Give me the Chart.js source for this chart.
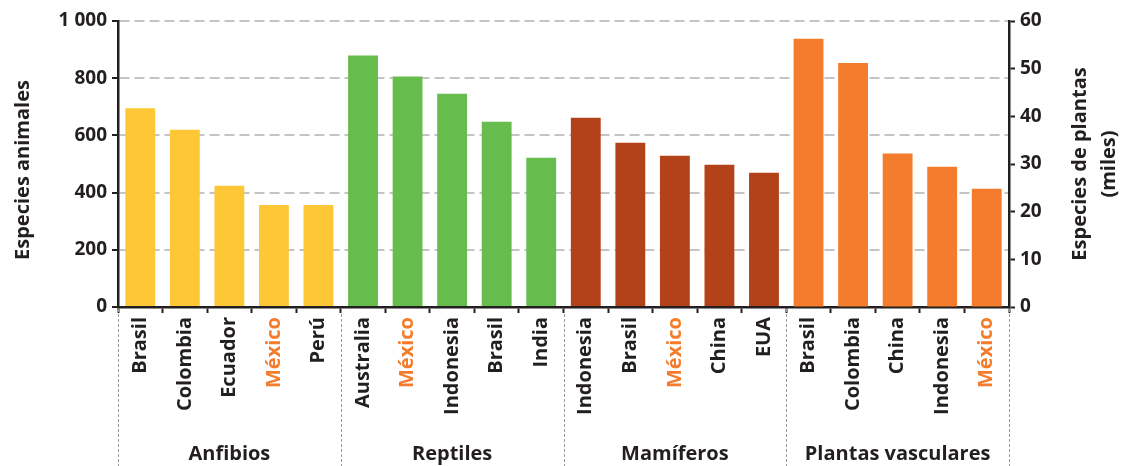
<!DOCTYPE html>
<html>
<head>
<meta charset="utf-8">
<script src="https://cdn.jsdelivr.net/npm/chart.js@4"></script>
<style>
  html, body { margin: 0; padding: 0; background: #fff; }
  #wrap { width: 1121px; height: 466px; }
</style>
</head>
<body>
<div id="wrap"><canvas id="chart" width="1121" height="466"></canvas></div>
<script>
// categories (country per bar) and the group each bar belongs to
const countries = [
  'Brasil', 'Colombia', 'Ecuador', 'México', 'Perú',
  'Australia', 'México', 'Indonesia', 'Brasil', 'India',
  'Indonesia', 'Brasil', 'México', 'China', 'EUA',
  'Brasil', 'Colombia', 'China', 'Indonesia', 'México'
];
const groupNames = ['Anfibios', 'Reptiles', 'Mamíferos', 'Plantas vasculares'];
const groupSize = 5;
const groupColors = ['#fec735', '#66bc4c', '#b34119', '#f47c2c'];

// left axis: number of animal species
const animalSpecies = [695, 620, 424, 357, 357, 879, 806, 746, 648, 522, 662, 574, 529, 497, 469,
  null, null, null, null, null];
// right axis: plant species (thousands)
const plantSpecies = [null, null, null, null, null, null, null, null, null, null,
  null, null, null, null, null, 56.3, 51.2, 32.2, 29.4, 24.8];

const leftTicks = [0, 200, 400, 600, 800, 1000];
const rightTicks = [0, 10, 20, 30, 40, 50, 60];

const dark = '#231f20';
const mexColor = '#f47c2b';
const fontFam = "'Open Sans', 'DejaVu Sans', sans-serif";

const barColors = countries.map((c, i) => groupColors[Math.floor(i / groupSize)]);

function fmtThousands(v){
    return String(v).replace(/\B(?=(\d{3})+(?!\d))/g, ' ');
}

const extrasPlugin = {
    id: 'extras',
    afterDraw(chart){
        const ctx = chart.ctx;
        const x = chart.scales.x;
        const area = chart.chartArea;
        const half = (x.getPixelForValue(1) - x.getPixelForValue(0)) / 2;

        // dashed separators between groups
        ctx.save();
        ctx.strokeStyle = '#9a9a9a';
        ctx.lineWidth = 1;
        ctx.setLineDash([3, 2]);
        for (let g = 0; g <= groupNames.length; g++) {
            const idx = Math.min(g * groupSize, countries.length - 1);
            let px = g * groupSize < countries.length ? x.getPixelForValue(idx) - half : x.getPixelForValue(idx) + half;
            px = Math.round(px) + 0.5;
            ctx.beginPath();
            ctx.moveTo(px, area.bottom + 2);
            ctx.lineTo(px, chart.height);
            ctx.stroke();
        }
        ctx.restore();

        // group names
        ctx.save();
        ctx.fillStyle = dark;
        ctx.font = 'bold 20px ' + fontFam;
        ctx.textAlign = 'center';
        ctx.textBaseline = 'middle';
        groupNames.forEach((name, g) => {
            const a = x.getPixelForValue(g * groupSize) - half;
            const b = x.getPixelForValue(g * groupSize + groupSize - 1) + half;
            ctx.fillText(name, (a + b) / 2, 454);
        });
        ctx.restore();

        // axis titles
        const midY = (area.top + area.bottom) / 2;
        ctx.save();
        ctx.fillStyle = dark;
        ctx.font = 'bold 20px ' + fontFam;
        ctx.textAlign = 'center';
        ctx.textBaseline = 'middle';
        ctx.translate(23, midY + 6);
        ctx.rotate(-Math.PI / 2);
        ctx.fillText('Especies animales', 0, 0);
        ctx.restore();

        ctx.save();
        ctx.fillStyle = dark;
        ctx.font = 'bold 20px ' + fontFam;
        ctx.textAlign = 'center';
        ctx.textBaseline = 'middle';
        ctx.translate(1080, midY);
        ctx.rotate(-Math.PI / 2);
        ctx.fillText('Especies de plantas', 0, 0);
        ctx.fillText('(miles)', 0, 29);
        ctx.restore();
    }
};

const grapharea = document.getElementById('chart');

let speciesChart = new Chart(grapharea, {
    type: 'bar',
    data: {
        labels: countries,
        datasets: [{
            label: 'Especies animales',
            data: animalSpecies,
            yAxisID: 'y',
            backgroundColor: barColors,
            grouped: false,
            barPercentage: 0.67,
            categoryPercentage: 1
        }, {
            label: 'Especies de plantas (miles)',
            data: plantSpecies,
            yAxisID: 'y1',
            backgroundColor: barColors,
            grouped: false,
            barPercentage: 0.67,
            categoryPercentage: 1
        }]
    },
    options: {
        responsive: false,
        animation: false,
        layout: { padding: { top: 21, left: 0, right: 0, bottom: 0 } },
        plugins: {
            legend: { display: false },
            tooltip: { enabled: false }
        },
        scales: {
            x: {
                offset: true,
                grid: {
                    offset: true,
                    drawOnChartArea: false,
                    drawTicks: true,
                    tickLength: 6,
                    tickColor: dark,
                    tickWidth: 2
                },
                border: { color: dark, width: 2.5 },
                ticks: {
                    autoSkip: false,
                    maxRotation: 90,
                    minRotation: 90,
                    padding: 4,
                    font: { family: fontFam, size: 20, weight: 'bold' },
                    color: c => countries[c.index] === 'México' ? mexColor : dark
                },
                afterFit: s => { s.height = 159; }
            },
            y: {
                position: 'left',
                min: 0,
                max: 1000,
                afterBuildTicks: s => { s.ticks = leftTicks.map(v => ({ value: v })); },
                grid: {
                    color: c => c.tick && c.tick.value === 0 ? 'rgba(0,0,0,0)' : '#c4c4c4',
                    lineWidth: 2,
                    tickLength: 6,
                    tickColor: dark,
                    tickWidth: 2
                },
                border: { color: dark, width: 2.5, dash: [10, 5] },
                ticks: {
                    padding: 5,
                    color: dark,
                    font: { family: fontFam, size: 19, weight: 'bold' },
                    callback: v => fmtThousands(v)
                },
                afterFit: s => { s.width = 118; }
            },
            y1: {
                position: 'right',
                min: 0,
                max: 60,
                afterBuildTicks: s => { s.ticks = rightTicks.map(v => ({ value: v })); },
                grid: {
                    drawOnChartArea: false,
                    tickLength: 6,
                    tickColor: dark,
                    tickWidth: 2
                },
                border: { color: dark, width: 2.5 },
                ticks: {
                    padding: 5,
                    color: dark,
                    font: { family: fontFam, size: 19, weight: 'bold' }
                },
                afterFit: s => { s.width = 112; }
            }
        }
    },
    plugins: [extrasPlugin]
});
</script>
</body>
</html>
